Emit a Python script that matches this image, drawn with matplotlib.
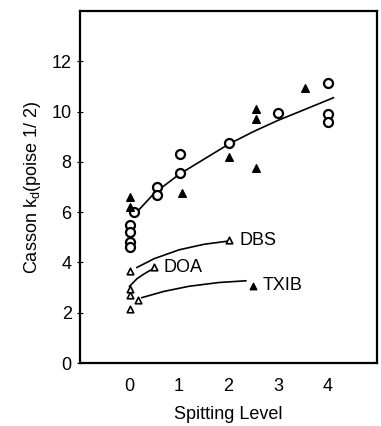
import matplotlib
matplotlib.use("Agg")
import matplotlib.pyplot as plt
import numpy as np

plt.rcParams['font.family'] = ['Liberation Sans Narrow', 'Liberation Sans', 'DejaVu Sans']

# Open circles (main series)
circ_x = [0, 0, 0, 0, 0.1, 0.55, 0.55, 1.03, 1.03, 2.02, 3.0, 4.02, 4.02, 4.02]
circ_y = [5.5, 5.2, 4.8, 4.6, 6.0, 7.0, 6.7, 8.3, 7.55, 8.75, 9.95, 11.15, 9.9, 9.6]
# Filled triangles (main series)
ftri_x = [0, 0, 1.07, 2.02, 2.55, 2.55, 2.55, 3.54]
ftri_y = [6.6, 6.2, 6.75, 8.2, 10.1, 9.7, 7.75, 10.95]
# Main fitted curve
fit_x = [0.1, 0.5, 1.0, 1.5, 2.0, 2.5, 3.0, 3.5, 4.12]
fit_y = [5.9, 6.75, 7.5, 8.1, 8.7, 9.2, 9.65, 10.05, 10.55]

# DBS
dbs_x = [0.02, 2.02]
dbs_y = [3.65, 4.88]
dbs_cx = [0.15, 0.5, 1.0, 1.5, 2.0]
dbs_cy = [3.8, 4.15, 4.5, 4.72, 4.85]
# DOA
doa_x = [0.0, 0.0, 0.5]
doa_y = [2.7, 2.95, 3.8]
doa_cx = [0.0, 0.15, 0.3, 0.45]
doa_cy = [3.05, 3.35, 3.55, 3.72]
# TXIB
txib_ox = [0.0, 0.17]
txib_oy = [2.15, 2.5]
txib_fx = [2.5]
txib_fy = [3.08]
txib_cx = [0.25, 0.7, 1.2, 1.8, 2.35]
txib_cy = [2.6, 2.85, 3.05, 3.2, 3.27]

xticks = [0, 1, 2, 3, 4]
yticks = [0, 2, 4, 6, 8, 10, 12]

fig = plt.figure(figsize=(3.81, 4.26), dpi=100)
ax = fig.add_axes([80/381, 1-363/426, 297/381, 352/426])

lw = 1.2
ax.plot(fit_x, fit_y, color='black', lw=lw, zorder=1)
ax.plot(dbs_cx, dbs_cy, color='black', lw=lw, zorder=1)
ax.plot(doa_cx, doa_cy, color='black', lw=lw, zorder=1)
ax.plot(txib_cx, txib_cy, color='black', lw=lw, zorder=1)

ax.scatter(circ_x, circ_y, s=42, facecolors='white', edgecolors='black', linewidths=1.6, zorder=3)
ax.scatter(ftri_x, ftri_y, s=30, marker='^', color='black', zorder=3)
ax.scatter(dbs_x, dbs_y, s=22, marker='^', facecolors='white', edgecolors='black', linewidths=1.2, zorder=3)
ax.scatter(doa_x, doa_y, s=22, marker='^', facecolors='white', edgecolors='black', linewidths=1.2, zorder=3)
ax.scatter(txib_ox, txib_oy, s=22, marker='^', facecolors='white', edgecolors='black', linewidths=1.2, zorder=3)
ax.scatter(txib_fx, txib_fy, s=22, marker='^', color='black', zorder=3)

ax.text(2.22, 4.88, 'DBS', fontsize=13, va='center', ha='left')
ax.text(0.68, 3.8, 'DOA', fontsize=13, va='center', ha='left')
ax.text(2.68, 3.08, 'TXIB', fontsize=13, va='center', ha='left')

ax.set_xlim(-1, 5)
ax.set_ylim(0, 14)
ax.set_xticks(xticks)
ax.set_yticks(yticks)
ax.tick_params(axis='x', length=0, pad=11, labelsize=13)
ax.tick_params(axis='y', length=4, direction='inout', pad=4, labelsize=13)
for sp in ax.spines.values():
    sp.set_linewidth(1.6)

ax.set_xlabel('Spitting Level', fontsize=13, labelpad=8)
ax.set_ylabel('Casson k$_\\mathregular{d}$(poise 1/ 2)', fontsize=13, labelpad=6)

fig.savefig('out.png', dpi=100)
